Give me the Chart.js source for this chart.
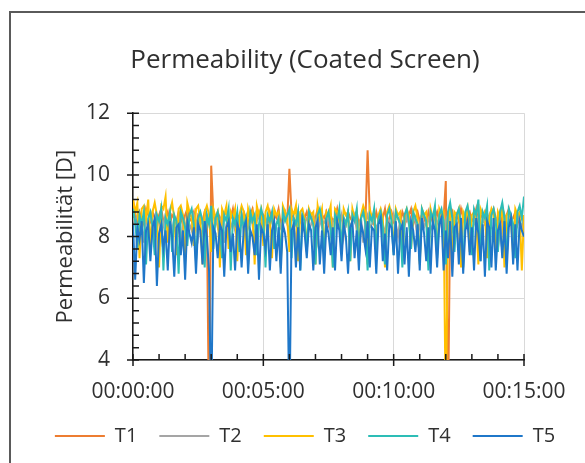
<!DOCTYPE html>
<html>
<head>
<meta charset="utf-8">
<script src="https://cdn.jsdelivr.net/npm/chart.js@4.4.1/dist/chart.umd.min.js"></script>
<style>
  body { margin: 0; background: #fff; }
  #wrap { position: relative; width: 585px; height: 463px; overflow: hidden; }
  .frame { position: absolute; left: 9px; top: 11px; width: 640px; height: 520px; border: 2px solid #5a5a5a; }
  canvas { position: absolute; left: 0; top: 0; }
</style>
</head>
<body>
<div id="wrap">
  <div class="frame"></div>
  <canvas id="myChart" width="585" height="463"></canvas>
</div>
<script>
// one sample every 5 seconds, 00:00:00 .. 00:15:00
const SAMPLE_STEP = 5;

const T1 = [
  9.2, 8.7, 8.5, 8.8, 8.6, 8.4, 8.9, 8.7, 8.5, 8.8, 8.6, 8.3, 8.7, 8.9, 8.5, 8.6, 8.8, 8.4, 8.7, 8.6,
  8.5, 8.8, 8.6, 8.4, 8.7, 8.9, 8.5, 8.6, 8.8, 8.3, 8.7, 8.6, 8.5, 8.8, 8.6, 2.0, 10.3, 8.7, 8.5, 8.8,
  8.6, 8.4, 8.7, 8.8, 8.5, 8.6, 8.9, 8.4, 8.7, 8.6, 8.5, 8.8, 8.6, 8.4, 8.7, 8.9, 8.5, 8.6, 8.8, 8.5,
  8.7, 8.6, 8.4, 8.8, 8.5, 8.7, 8.6, 8.9, 8.4, 8.6, 8.8, 8.5, 10.2, 8.7, 8.6, 8.4, 8.8, 8.5, 8.7, 8.6,
  8.8, 8.5, 8.7, 8.4, 8.6, 8.9, 8.5, 8.7, 8.6, 8.8, 8.4, 8.7, 8.5, 8.6, 8.9, 8.5, 8.7, 8.6, 8.4, 8.8,
  8.6, 8.5, 8.7, 8.8, 8.4, 8.6, 8.9, 8.5, 10.8, 8.7, 8.6, 8.4, 8.8, 8.5, 8.7, 8.6, 8.9, 8.4, 8.6, 8.8,
  8.5, 8.7, 8.6, 8.4, 8.8, 8.6, 8.5, 8.7, 8.9, 8.4, 8.6, 8.8, 8.5, 8.7, 8.6, 8.4, 8.8, 8.5, 8.7, 8.6,
  8.8, 8.5, 8.7, 8.6, 9.8, 2.0, 8.6, 8.8, 8.4, 8.7, 8.5, 8.9, 8.6, 8.4, 8.7, 8.8, 8.5, 8.6, 8.9, 8.4,
  8.7, 8.6, 8.8, 8.5, 8.4, 8.7, 8.9, 8.6, 8.5, 8.8, 8.4, 8.6, 8.7, 8.9, 8.5, 8.6, 8.8, 8.4, 8.7, 8.6,
  8.5
];

const T2 = [
  8.6, 8.4, 8.7, 8.2, 8.5, 7.8, 8.6, 8.3, 8.7, 8.4, 8.1, 8.6, 8.5, 7.9, 8.4, 8.7, 8.3, 8.5, 8.2, 8.6,
  8.4, 8.7, 7.7, 8.5, 8.3, 8.6, 8.4, 8.2, 8.7, 8.5, 8.0, 8.6, 8.4, 8.3, 8.7, 8.5, 8.4, 8.1, 8.6, 8.3,
  8.5, 8.7, 7.8, 8.4, 8.6, 8.3, 8.5, 8.2, 8.6, 8.4, 8.7, 8.1, 8.5, 8.3, 8.6, 8.4, 7.9, 8.5, 8.7, 8.3,
  8.4, 8.6, 8.2, 8.5, 8.7, 8.0, 8.4, 8.6, 8.3, 8.5, 8.7, 8.4, 8.2, 8.6, 8.5, 7.8, 8.4, 8.7, 8.3, 8.5,
  8.6, 8.2, 8.4, 8.7, 8.5, 7.9, 8.6, 8.3, 8.5, 8.4, 8.7, 8.1, 8.5, 8.6, 8.3, 8.4, 8.7, 8.0, 8.5, 8.6,
  8.3, 8.5, 8.7, 8.2, 8.4, 8.6, 7.8, 8.5, 8.7, 8.3, 8.4, 8.6, 8.2, 8.5, 8.7, 8.4, 8.1, 8.6, 8.5, 8.3,
  8.7, 8.4, 8.0, 8.6, 8.5, 8.3, 8.7, 8.4, 8.2, 8.6, 8.5, 7.9, 8.4, 8.7, 8.3, 8.5, 8.6, 8.2, 8.4, 8.7,
  8.5, 8.3, 8.6, 8.1, 8.5, 8.7, 8.4, 8.2, 8.6, 8.5, 7.8, 8.4, 8.7, 8.3, 8.5, 8.6, 8.2, 8.4, 8.7, 8.5,
  8.0, 8.6, 8.4, 8.5, 8.7, 8.3, 8.2, 8.6, 8.5, 7.9, 8.4, 8.7, 8.3, 8.5, 8.6, 8.1, 8.4, 8.7, 8.5, 8.3,
  8.6
];

const T3 = [
  9.2, 8.8, 9.1, 7.3, 8.9, 9.0, 8.6, 9.2, 7.6, 8.8, 9.1, 8.7, 7.0, 9.0, 8.9, 9.3, 7.8, 8.8, 9.1, 8.6,
  7.4, 8.9, 9.0, 8.7, 7.2, 9.1, 8.8, 8.6, 7.7, 8.9, 9.0, 8.5, 7.1, 8.8, 9.0, 8.7, 7.5, 8.9, 8.6, 8.8,
  7.0, 8.9, 8.7, 9.0, 7.6, 8.8, 8.6, 8.9, 7.2, 8.7, 9.0, 8.8, 7.4, 8.9, 8.6, 8.8, 7.1, 9.0, 8.7, 8.9,
  7.7, 8.8, 9.0, 8.6, 7.3, 8.9, 8.7, 8.8, 7.0, 9.0, 8.8, 8.6, 7.5, 8.9, 8.7, 9.0, 7.2, 8.8, 8.9, 8.6,
  7.6, 8.9, 8.7, 8.8, 7.1, 9.0, 8.6, 8.9, 7.4, 8.8, 8.7, 9.0, 7.0, 8.9, 8.8, 8.6, 7.5, 8.9, 8.7, 8.8,
  7.2, 8.9, 8.6, 8.8, 7.6, 8.7, 9.0, 8.8, 7.1, 8.9, 8.6, 8.8, 7.4, 8.7, 8.9, 8.6, 7.0, 8.8, 9.0, 8.7,
  7.5, 8.9, 8.7, 8.8, 7.2, 8.6, 8.9, 8.7, 7.6, 8.8, 9.0, 8.6, 7.1, 8.9, 8.7, 8.8, 7.3, 8.9, 8.6, 8.8,
  7.4, 8.9, 8.7, 8.8, 2.0, 8.6, 8.9, 7.2, 8.8, 8.7, 8.9, 7.0, 8.8, 8.6, 8.9, 7.5, 8.7, 8.8, 8.6, 7.1,
  8.9, 8.7, 8.8, 7.3, 8.6, 8.9, 8.7, 7.6, 8.8, 8.6, 8.9, 7.0, 8.7, 8.8, 8.6, 7.4, 8.9, 8.7, 8.8, 6.9,
  8.7
];

const T4 = [
  8.9, 8.5, 7.6, 8.7, 8.4, 8.8, 7.1, 8.6, 8.8, 8.3, 7.4, 8.7, 8.5, 8.9, 6.9, 8.6, 8.4, 8.8, 7.5, 8.7,
  8.5, 6.8, 8.8, 8.6, 8.3, 7.7, 8.7, 8.9, 8.4, 7.2, 8.6, 8.8, 8.5, 7.0, 8.7, 8.4, 9.0, 7.6, 8.6, 8.8,
  8.3, 7.3, 8.7, 8.5, 8.9, 6.9, 8.6, 8.4, 8.8, 7.5, 8.7, 8.3, 8.6, 7.1, 8.8, 8.5, 8.7, 7.4, 8.4, 8.9,
  8.6, 7.0, 8.7, 8.5, 8.8, 7.6, 8.4, 8.6, 7.2, 8.8, 8.5, 8.7, 8.9, 7.3, 8.6, 8.4, 8.8, 6.9, 8.7, 8.5,
  7.5, 8.8, 8.6, 8.4, 7.1, 8.7, 8.9, 8.5, 7.4, 8.6, 8.8, 8.3, 7.0, 8.7, 8.5, 8.9, 7.6, 8.6, 8.4, 8.8,
  7.2, 8.7, 8.5, 8.9, 7.3, 8.6, 8.8, 8.4, 6.9, 8.7, 8.5, 8.9, 7.5, 8.6, 8.8, 8.3, 7.1, 8.7, 8.9, 8.5,
  7.4, 8.8, 8.6, 8.4, 7.0, 8.7, 8.9, 8.5, 7.6, 8.8, 8.6, 8.4, 7.2, 8.9, 8.7, 8.5, 6.9, 8.8, 8.6, 9.0,
  7.3, 8.7, 8.9, 8.5, 7.1, 8.8, 9.1, 8.6, 7.5, 8.7, 8.9, 8.4, 7.0, 8.8, 9.0, 8.6, 7.4, 8.9, 8.7, 9.2,
  7.2, 8.8, 8.6, 9.0, 6.9, 8.7, 8.9, 8.5, 7.5, 8.8, 9.1, 8.6, 7.1, 8.9, 8.7, 8.4, 7.3, 8.8, 9.0, 8.6,
  9.3
];

const T5 = [
  8.4, 6.6, 8.3, 7.9, 8.5, 6.5, 8.2, 8.4, 7.2, 8.3, 8.6, 6.4, 8.1, 8.4, 7.6, 8.2, 6.9, 8.5, 8.0, 6.7,
  8.3, 8.4, 7.4, 8.2, 6.6, 8.5, 8.1, 7.8, 8.3, 6.8, 8.4, 8.2, 7.1, 8.5, 8.0, 6.9, 2.0, 8.3, 8.1, 7.3,
  8.4, 8.2, 6.7, 8.3, 8.5, 7.5, 8.1, 6.9, 8.4, 8.2, 7.0, 8.3, 8.5, 6.8, 8.2, 8.0, 7.4, 8.4, 6.6, 8.3,
  8.1, 7.6, 8.4, 6.9, 8.2, 8.5, 7.2, 8.3, 6.8, 8.4, 8.1, 7.5, 2.0, 8.2, 8.4, 7.0, 8.3, 6.9, 8.5, 8.1,
  7.3, 8.4, 8.2, 6.9, 8.3, 8.5, 7.1, 8.2, 6.8, 8.4, 8.1, 7.4, 8.3, 6.9, 8.5, 8.2, 7.2, 8.4, 8.0, 6.8,
  8.3, 8.5, 7.3, 8.2, 6.9, 8.4, 8.1, 7.6, 8.5, 7.0, 8.3, 8.2, 6.8, 8.4, 8.6, 7.2, 8.1, 6.9, 8.4, 8.3,
  7.4, 8.5, 6.8, 8.2, 8.4, 7.1, 8.3, 6.7, 8.5, 8.2, 7.5, 8.4, 6.9, 8.6, 8.1, 7.2, 8.3, 6.8, 8.5, 8.2,
  7.0, 8.4, 8.6, 6.9, 8.2, 7.3, 8.5, 6.7, 8.3, 8.4, 7.1, 8.6, 6.8, 8.2, 8.5, 7.4, 8.3, 6.9, 8.6, 8.1,
  7.2, 8.4, 6.7, 8.5, 8.3, 7.0, 8.6, 6.9, 8.2, 8.4, 7.3, 8.5, 6.8, 8.3, 8.6, 7.1, 8.4, 6.9, 8.5, 8.2,
  8.0
];

const seriesNames = ['T1', 'T2', 'T3', 'T4', 'T5'];
const seriesValues = [T1, T2, T3, T4, T5];
const seriesColors = ['#ED7D31', '#A5A5A5', '#FFC000', '#2DBDB6', '#1F77C9'];

const FONT = "'Open Sans', sans-serif";
const TEXT = '#303030';

function hms(sec) {
  const h = Math.floor(sec / 3600), m = Math.floor(sec % 3600 / 60), s = sec % 60;
  return [h, m, s].map(v => String(v).padStart(2, '0')).join(':');
}

// Excel style tick marks: major ticks cross the axis, minor ticks point inwards
const axisTicks = {
  id: 'axisTicks',
  afterDatasetsDraw(chart) {
    const {ctx, scales: {x, y}} = chart;
    const ax = y.left + y.width, ay = x.top;
    ctx.save();
    ctx.strokeStyle = '#1a1a1a';
    ctx.lineWidth = 1.5;
    ctx.beginPath();
    for (let k = 0; k <= 20; k++) {
      const py = y.getPixelForValue(4 + k * 0.4);
      const major = k % 5 === 0;
      ctx.moveTo(major ? ax - 6 : ax, py);
      ctx.lineTo(ax + 6, py);
    }
    for (let k = 0; k <= 15; k++) {
      const px = x.getPixelForValue(k * 60);
      const major = k % 5 === 0;
      ctx.moveTo(px, ay - 6);
      ctx.lineTo(px, major ? ay + 6 : ay);
    }
    ctx.stroke();
    ctx.restore();
  }
};

const ctx = document.getElementById('myChart');

// T5 first so it is painted on top, legend reversed back to T1..T5
const datasets = seriesNames.map((name, i) => ({
  label: name,
  data: seriesValues[i].map((v, j) => ({x: j * SAMPLE_STEP, y: v})),
  borderColor: seriesColors[i],
  backgroundColor: seriesColors[i],
  borderWidth: 2,
  pointRadius: 0,
  tension: 0
})).reverse();

new Chart(ctx, {
  type: 'line',
  data: {datasets: datasets},
  options: {
    responsive: false,
    animation: false,
    events: [],
    layout: {padding: {left: 25, right: 0, top: 12, bottom: 7}},
    plugins: {
      title: {
        display: true,
        text: 'Permeability (Coated Screen)',
        color: TEXT,
        font: {family: FONT, size: 26, weight: 'normal'},
        padding: {top: 33, bottom: 37}
      },
      legend: {
        position: 'bottom',
        reverse: true,
        labels: {
          usePointStyle: true,
          pointStyle: 'line',
          pointStyleWidth: 50,
          padding: 22,
          color: TEXT,
          font: {family: FONT, size: 20}
        }
      },
      tooltip: {enabled: false}
    },
    scales: {
      x: {
        type: 'linear',
        min: 0,
        max: 900,
        ticks: {
          stepSize: 300,
          callback: v => hms(v),
          maxRotation: 0,
          padding: 19,
          color: TEXT,
          font: {family: FONT, size: 21}
        },
        grid: {color: '#D9D9D9', lineWidth: 1, drawTicks: false},
        border: {color: '#1a1a1a', width: 1.5},
        afterFit: s => { s.height = 44; }
      },
      y: {
        min: 4,
        max: 12,
        ticks: {
          stepSize: 2,
          padding: 23,
          color: TEXT,
          font: {family: FONT, size: 21}
        },
        title: {
          display: true,
          text: 'Permeabilität [D]',
          color: TEXT,
          font: {family: FONT, size: 22},
          padding: {top: 28, bottom: 0}
        },
        grid: {color: '#D9D9D9', lineWidth: 1, drawTicks: false},
        border: {color: '#1a1a1a', width: 1.5},
        afterFit: s => { s.width = 108; }
      },
      right: {
        position: 'right',
        grid: {display: false},
        border: {display: false},
        ticks: {display: false},
        afterFit: s => { s.width = 61; }
      }
    }
  },
  plugins: [axisTicks]
});
</script>
</body>
</html>
